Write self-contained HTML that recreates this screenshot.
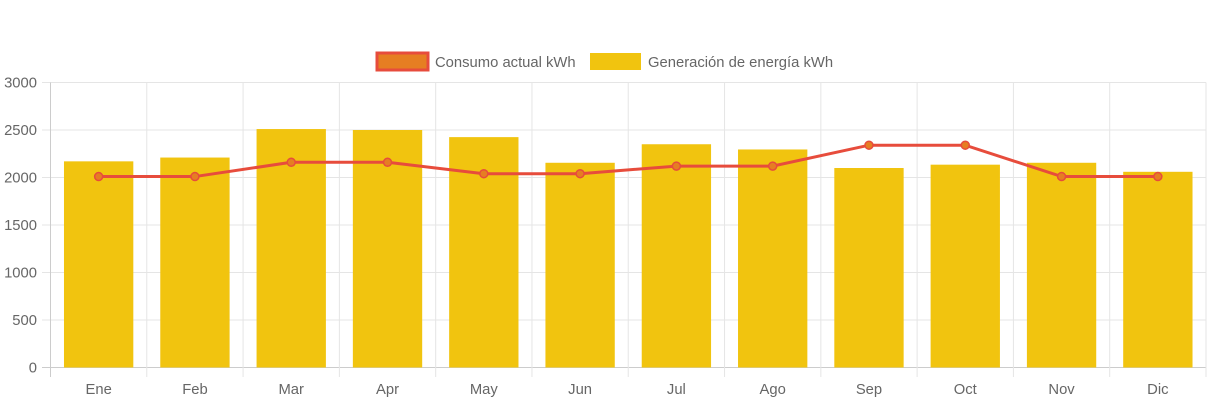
<!DOCTYPE html>
<html><head><meta charset="utf-8"><style>
body{margin:0;background:#fff;}
svg text{font-family:"Liberation Sans",sans-serif;fill:#666;}
</style></head><body>
<svg id="chart" width="1213" height="403" xmlns="http://www.w3.org/2000/svg">
<g id="legend">
 <g>
  <rect x="377" y="53" width="51" height="17" fill="#e67e22" stroke="#e74c3c" stroke-width="3"/>
  <text x="435" y="67" font-size="14.8">Consumo actual kWh</text>
 </g>
 <g>
  <rect x="590" y="53" width="51" height="17" fill="#f1c40f"/>
  <text x="648" y="67" font-size="14.8">Generación de energía kWh</text>
 </g>
</g>
<g id="grid"></g><g id="bars"></g><g id="line"></g><g id="axes"></g>
</svg>
<script>
const categories=["Ene","Feb","Mar","Apr","May","Jun","Jul","Ago","Sep","Oct","Nov","Dic"];
const generacion=[2170,2210,2510,2500,2425,2155,2350,2295,2100,2135,2155,2060];
const consumo=[2010,2010,2160,2160,2040,2040,2120,2120,2340,2340,2010,2010];
const yTicks=[0,500,1000,1500,2000,2500,3000];
const NS="http://www.w3.org/2000/svg";
const L=50.5,R=1206,T=82.5,B=367.5,yMax=3000;
const cw=(R-L)/categories.length;
const y=v=>B-(v/yMax)*(B-T);
const xc=i=>L+cw*(i+0.5);
function mk(tag,attrs,parent){const e=document.createElementNS(NS,tag);for(const k in attrs)e.setAttribute(k,attrs[k]);document.getElementById(parent).appendChild(e);return e;}
yTicks.forEach(t=>{
 const l=mk('line',{x1:42,x2:R,y1:y(t),y2:y(t),stroke:t===0?'#ccc':'#e5e5e5'},'grid');
 
 
 const tx=mk('text',{x:37,y:y(t)+5,'text-anchor':'end','font-size':14.8},'axes');
 tx.textContent=t;
 
 
});
for(let i=0;i<=categories.length;i++){
 const gx=L+cw*i;
 const l=mk('line',{x1:gx,x2:gx,y1:T,y2:377,stroke:i===0?'#ccc':'#e5e5e5'},'grid');
 
 
}
categories.forEach((c,i)=>{
 const bw=cw*0.72;
 const r=mk('rect',{x:xc(i)-bw/2,y:y(generacion[i]),width:bw,height:B-y(generacion[i]),fill:'#f1c40f'},'bars');
 
 
 const tx=mk('text',{x:xc(i),y:394,'text-anchor':'middle','font-size':14.8},'axes');
 tx.textContent=c;
 
 
});
const pl=mk('polyline',{points:consumo.map((v,i)=>xc(i)+','+y(v)).join(' '),fill:'none',stroke:'#e74c3c','stroke-width':3},'line');


consumo.forEach((v,i)=>{
 const c=mk('circle',{cx:xc(i),cy:y(v),r:4,fill:'#e67e22',stroke:'#e74c3c','stroke-width':1.5},'line');
 
 
});
</script>
</body></html>
